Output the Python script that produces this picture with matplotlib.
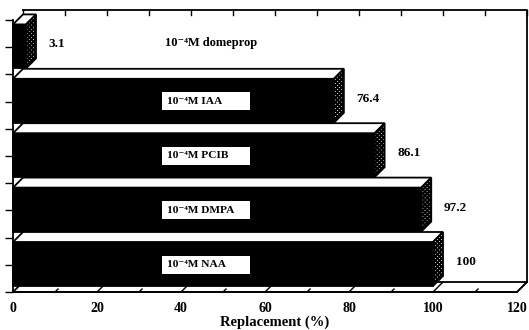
import numpy as np
import matplotlib
matplotlib.use("Agg")
import matplotlib.pyplot as plt
from matplotlib.patches import Polygon, Rectangle

# Treatments, listed from the bottom band to the top band
treatments = ["NAA", "DMPA", "PCIB", "IAA", "domeprop"]
replacement = [100, 97.2, 86.1, 76.4, 3.1]
boxed = [True, True, True, True, False]
x_ticks = [0, 20, 40, 60, 80, 100, 120]
x_label = "Replacement (%)"

W, H, DPI = 529, 330, 100
fig = plt.figure(figsize=(W / DPI, H / DPI), dpi=DPI)
fig.patch.set_facecolor("white")
plt.rcParams["hatch.linewidth"] = 1.4

# front plane of the 3-D box in pixel coordinates
left_px, right_px, bottom_px, top_px = 13, 517, 292, 20
ax = fig.add_axes([left_px / W, (H - bottom_px) / H,
                   (right_px - left_px) / W, (bottom_px - top_px) / H])
ax.set_xlim(0, 120)
ax.set_ylim(0, len(treatments))
ax.patch.set_alpha(0)

# depth of the box (10 px right, 10 px up) in data units
px_x = 120 / (right_px - left_px)
px_y = len(treatments) / (bottom_px - top_px)
ddx, ddy = 10 * px_x, 10 * px_y
bar_depth_x, bar_depth_y = 10 * px_x, 10 * px_y

serif = ["Liberation Serif", "DejaVu Serif"]
lw = 1.3
k = dict(clip_on=False)

# back wall and floor
n = len(treatments)
ax.add_patch(Polygon([(ddx, ddy), (120 + ddx, ddy), (120 + ddx, n + ddy),
                      (ddx, n + ddy)], closed=True, facecolor="white",
                     edgecolor="none", zorder=0, **k))
ax.plot([ddx, 120 + ddx, 120 + ddx], [n + ddy, n + ddy, ddy],
        color="black", lw=lw, zorder=1, **k)
ax.add_patch(Polygon([(0, 0), (120, 0), (120 + ddx, ddy), (ddx, ddy)],
                     closed=True, facecolor="white", edgecolor="black",
                     lw=lw, zorder=1, **k))
# ticks along the top edge of the back wall
for t in range(0, 121, 10):
    ax.plot([t + ddx, t + ddx], [n + ddy, n + ddy - 5 * px_y],
            color="black", lw=1.0, zorder=1, **k)
# ticks across the floor
for t in range(10, 121, 10):
    depth = 1.0 if t % 20 == 0 else 0.3
    ax.plot([t, t + ddx * depth], [0, ddy * depth], color="black",
            lw=1.0, zorder=1, **k)

# 3-D bars
gap = 6 * px_y
face_h = 44 * px_y
for i in reversed(range(n)):
    v = replacement[i]
    y0 = i + gap
    y1 = y0 + face_h
    ax.add_patch(Rectangle((0, y0), v, face_h, facecolor="black",
                           edgecolor="black", lw=lw, zorder=3, **k))
    ax.add_patch(Polygon([(0, y1), (v, y1), (v + bar_depth_x, y1 + bar_depth_y),
                          (bar_depth_x, y1 + bar_depth_y)], closed=True,
                         facecolor="white", edgecolor="black", lw=lw,
                         zorder=3, **k))
    ax.add_patch(Polygon([(v, y0), (v, y1), (v + bar_depth_x, y1 + bar_depth_y),
                          (v + bar_depth_x, y0 + bar_depth_y)], closed=True,
                         facecolor="white", edgecolor="black", hatch="xxxxxxxx",
                         lw=lw, zorder=3, **k))
    # value label to the right of the bar
    ax.text(v + bar_depth_x + 3, i + 0.55, f"{v:g}", ha="left", va="center",
            family=serif, fontweight="bold", fontsize=9.5, zorder=5)
    label = "10\u207b\u2074M " + treatments[i]
    if boxed[i]:
        ax.add_patch(Rectangle((35.5, i + 0.34), 20.9, 0.33, facecolor="white",
                               edgecolor="none", zorder=4))
        ax.text(36.6, i + 0.505, label, ha="left", va="center", family=serif,
                fontweight="bold", fontsize=8.2, zorder=5)
    else:
        ax.text(36.2, i + 0.58, label, ha="left", va="center", family=serif,
                fontweight="bold", fontsize=9, zorder=5)

# axes frame on the front plane
for s in ["top", "right"]:
    ax.spines[s].set_visible(False)
ax.spines["left"].set_linewidth(lw)
ax.spines["bottom"].set_linewidth(lw)
ax.spines["left"].set_zorder(6)
ax.set_yticks(np.arange(0, n + 0.01, 0.5))
ax.set_yticklabels([])
ax.tick_params(axis="y", direction="out", length=6, width=1.0)
ax.set_xticks(x_ticks)
ax.set_xticklabels([str(t) for t in x_ticks], family=serif,
                   fontweight="bold", fontsize=10)
ax.tick_params(axis="x", direction="in", length=0, pad=7)
ax.set_xlabel(x_label, family=serif, fontweight="bold", fontsize=10.5,
              labelpad=-1)
ax.xaxis.set_label_coords(0.52, -0.085)

fig.savefig("out.png", dpi=DPI, facecolor="white")
